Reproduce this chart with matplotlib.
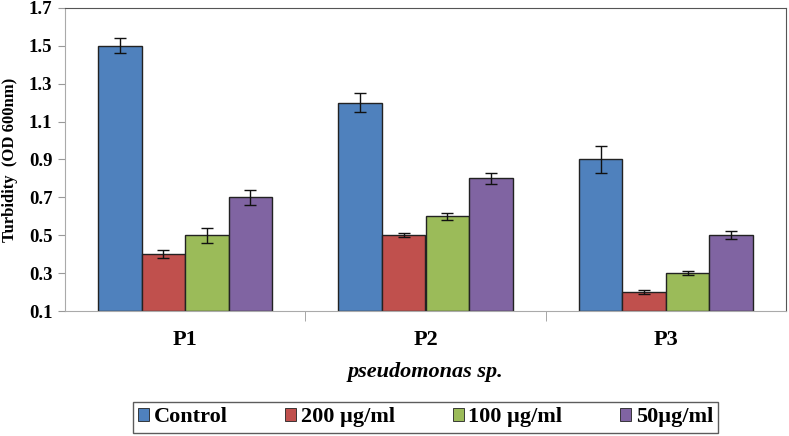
import matplotlib.pyplot as plt
import numpy as np

plt.rcParams['font.family'] = ['Liberation Serif', 'DejaVu Serif']
plt.rcParams['font.weight'] = 'bold'

# data
strains = ['P1', 'P2', 'P3']
series = ['Control', '200 µg/ml', '100 µg/ml', '50µg/ml']
control = [1.5, 1.2, 0.9]
c200 = [0.4, 0.5, 0.2]
c100 = [0.5, 0.6, 0.3]
c50 = [0.7, 0.8, 0.5]
err_control = [0.04, 0.05, 0.07]
err_200 = [0.02, 0.01, 0.01]
err_100 = [0.04, 0.02, 0.01]
err_50 = [0.04, 0.03, 0.02]
yticks = [0.1, 0.3, 0.5, 0.7, 0.9, 1.1, 1.3, 1.5, 1.7]

colors = ['#4F81BD', '#C0504D', '#9BBB59', '#8064A2']

fig = plt.figure(figsize=(7.89, 4.36), dpi=100)
ax = fig.add_axes([65/789, 1 - 311/436, (786-65)/789, (311-8)/436])

x = np.arange(len(strains))
w = 0.181
vals = [control, c200, c100, c50]
errs = [err_control, err_200, err_100, err_50]
for i in range(4):
    pos = x + (i - 1.5) * w
    ax.bar(pos, np.array(vals[i]) - 0.1, w, bottom=0.1, color=colors[i],
           edgecolor='#222222', linewidth=1.0, label=series[i], zorder=2)
    ax.errorbar(pos, vals[i], yerr=errs[i], fmt='none', ecolor='#111111',
                elinewidth=1.0, capsize=4, capthick=1.0, zorder=3)

ax.set_xlim(-0.5, 2.5)
ax.set_ylim(0.1, 1.7)
ax.set_yticks(yticks)
ax.set_yticklabels([f'{t:.1f}' for t in yticks], fontsize=13.5, fontweight='bold')
ax.set_xticks(x)
ax.set_xticklabels(strains, fontsize=16, fontweight='bold')
ax.tick_params(axis='x', length=0, pad=14)
ax.tick_params(axis='y', length=5, color='#999999', direction='out', pad=4)
ax.set_xticks([0.5, 1.5], minor=True)
ax.tick_params(axis='x', which='minor', length=7, color='#999999', direction='out')

for s in ['left', 'bottom']:
    ax.spines[s].set_color('#aaaaaa')
for s in ['top', 'right']:
    ax.spines[s].set_color('#555555')
    ax.spines[s].set_linewidth(0.8)

ax.set_ylabel('Turbidity  (OD 600nm)', fontsize=12, fontweight='bold', labelpad=8)
ax.set_xlabel('pseudomonas sp.', fontsize=16, fontweight='bold', style='italic', labelpad=8)

leg = ax.legend(loc='upper center', bbox_to_anchor=(0.5, -0.3), ncol=4,
                frameon=True, fancybox=False, edgecolor='#333333',
                prop={'size': 16, 'weight': 'bold'}, handlelength=0.5,
                handleheight=0.5, handletextpad=0.2, columnspacing=2.6,
                borderpad=0.25, borderaxespad=0)
leg.get_frame().set_linewidth(1.0)
for h in leg.legend_handles:
    h.set_linewidth(0.6)

fig.savefig('out.png', dpi=100)
